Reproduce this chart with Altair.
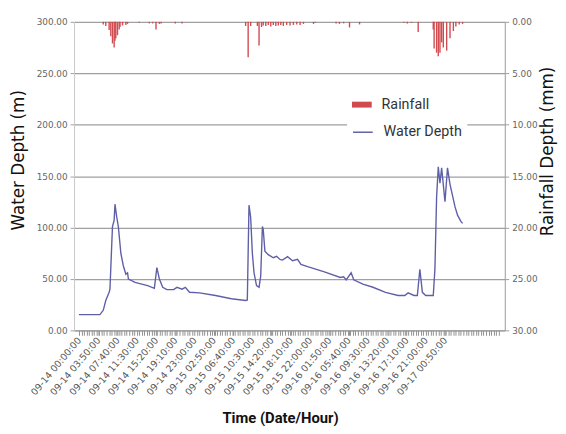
import altair as alt
import pandas as pd

# x positions are minutes after 09-14 00:00:00
tick_labels = ["09-14 00:00:00", "09-14 03:50:00", "09-14 07:40:00", "09-14 11:30:00",
               "09-14 15:20:00", "09-14 19:10:00", "09-14 23:00:00", "09-15 02:50:00",
               "09-15 06:40:00", "09-15 10:30:00", "09-15 14:20:00", "09-15 18:10:00",
               "09-15 22:00:00", "09-16 01:50:00", "09-16 05:40:00", "09-16 09:30:00",
               "09-16 13:20:00", "09-16 17:10:00", "09-16 21:00:00", "09-17 00:50:00"]
label_step = 230
x_end = 5025

wd_min = [0, 250, 290, 320, 360, 370, 400, 420, 430, 450,
          470, 500, 530, 560, 580, 590, 670, 750, 820, 900,
          930, 960, 1000, 1050, 1130, 1170, 1230, 1270, 1320, 1440,
          1630, 1820, 1990, 2010, 2030, 2050, 2070, 2090, 2120, 2150,
          2170, 2190, 2200, 2220, 2260, 2320, 2360, 2400, 2430, 2490,
          2550, 2610, 2650, 2740, 2930, 3120, 3160, 3190, 3250, 3280,
          3390, 3510, 3660, 3810, 3890, 3930, 4000, 4040, 4070, 4100,
          4140, 4230, 4250, 4270, 4290, 4310, 4330, 4370, 4400, 4430,
          4490, 4520, 4560, 4580]
wd_val = [15.3, 15.3, 19.5, 29, 37, 40, 101, 107, 122.7, 110.5,
          101, 75, 62.6, 54.6, 56, 49.8, 46.6, 45, 43.5, 40.9,
          61, 50, 41.8, 39.6, 39.6, 41.8, 40, 41.8, 37, 36.4,
          33.9, 30.7, 29, 29.5, 121.7, 110, 75, 56, 43.5, 41.8,
          53, 101, 98, 77, 73.6, 70.6, 72, 69, 68.3, 71.6,
          67.7, 69, 64.2, 61.7, 56.9, 51.4, 52, 49, 56, 49.2,
          45, 41.9, 37, 33.9, 33.9, 36.4, 33.9, 33.9, 59.4, 37,
          33.9, 33.9, 60, 130, 159, 143, 158, 125, 158, 142,
          120, 112, 106, 104]

rain_min = [290, 320, 360, 380, 400, 420, 430, 440, 460, 480,
            490, 520, 560, 580, 720, 840, 880, 920, 960, 980,
            1150, 1230, 1990, 2020, 2050, 2130, 2150, 2180, 2200, 2230,
            2260, 2290, 2320, 2350, 2380, 2410, 2440, 2480, 2520, 2560,
            2600, 2640, 2680, 2800, 2820, 3070, 3110, 3160, 3230, 3350,
            3880, 3920, 3970, 4050, 4230, 4240, 4270, 4290, 4310, 4330,
            4350, 4390, 4430, 4470, 4500, 4540, 4580]
rain_mm = [0.26, 0.4, 0.8, 1.4, 2.1, 2.5, 1.85, 1.6, 1.3, 0.75,
           0.5, 0.35, 0.3, 0.2, 0.1, 0.15, 0.15, 0.75, 0.2, 0.15,
           0.15, 0.15, 0.4, 3.45, 0.4, 0.4, 2.3, 0.5, 0.35, 0.4,
           0.3, 0.45, 0.3, 0.4, 0.35, 0.3, 0.4, 0.3, 0.35, 0.3,
           0.25, 0.3, 0.2, 0.2, 0.1, 0.15, 0.2, 0.15, 0.55, 0.25,
           0.1, 0.15, 0.1, 1.0, 0.75, 2.6, 3.0, 3.35, 3.0, 2.0,
           2.5, 2.8, 1.6, 0.9, 0.45, 0.25, 0.2]

wd_df = pd.DataFrame({"t": wd_min, "depth": wd_val, "series": "Water Depth"})
rain_df = pd.DataFrame({"t": rain_min, "rain": rain_mm, "series": "Rainfall"})

RED = "#cf4b50"
BLUE = "#5f5fa8"
SANS = "Roboto"

last_label = label_step * (len(tick_labels) - 1)
tick_values = sorted(set(list(range(0, x_end, 30)) + [label_step * i for i in range(len(tick_labels))]))
label_arr = "[" + ",".join("'" + s + "'" for s in tick_labels) + "]"
label_expr = ("(datum.value % " + str(label_step) + " === 0 && datum.value <= " + str(last_label) + ") ? "
              + label_arr + "[datum.value / " + str(label_step) + "] : ''")

x_scale = alt.Scale(domain=[0, x_end], nice=False, zero=False)

x_axis = alt.Axis(values=tick_values, labelExpr=label_expr, labelAngle=-50,
                  labelAlign="right", labelBaseline="middle", labelOverlap=False,
                  labelBound=False, labelFlush=False, labelFont="DejaVu Sans",
                  labelFontSize=9.5, labelColor="#555555", labelPadding=3,
                  tickSize=5, tickColor="#8f8f8f", domainColor="#9a9a9a", grid=False,
                  title="Time (Date/Hour)", titleFont=SANS, titleFontSize=15,
                  titleFontWeight="bold", titleColor="#111111", titleX=209, titleY=88,
                  titleAlign="center", titleBaseline="middle", titleAngle=0)

left_axis = alt.Axis(orient="left", values=list(range(0, 301, 50)), format=".2f",
                     grid=True, gridColor="#a0a0a0", gridWidth=1.2,
                     domainColor="#c8c8c8", tickColor="#a0a0a0", tickSize=4,
                     labelPadding=3, labelFont="DejaVu Sans", labelFontSize=9,
                     labelColor="#666666", title="Water Depth (m)",
                     titleFont="DejaVu Sans", titleFontSize=17, titleFontWeight="normal",
                     titleColor="#111111", titleAngle=270, titleX=-47, titleY=140,
                     titleAlign="center", titleBaseline="bottom")

right_axis = alt.Axis(orient="right", values=list(range(0, 31, 5)), format=".2f",
                      grid=False, domainColor="#9a9a9a", tickColor="#a0a0a0", tickSize=4,
                      labelPadding=3, labelFont="DejaVu Sans", labelFontSize=9,
                      labelColor="#666666", title="Rainfall Depth (mm)",
                      titleFont="DejaVu Sans", titleFontSize=17, titleFontWeight="normal",
                      titleColor="#111111", titleAngle=270, titleX=35, titleY=131,
                      titleAlign="center", titleBaseline="top")

bars = alt.Chart(rain_df).mark_bar(width=1.4).encode(
    x=alt.X("t:Q", scale=x_scale, axis=x_axis),
    y=alt.Y("rain:Q", scale=alt.Scale(domain=[0, 30], reverse=True, nice=False), axis=right_axis),
    fill=alt.Fill("series:N", scale=alt.Scale(domain=["Rainfall"], range=[RED]),
                  legend=alt.Legend(orient="none", legendX=277, legendY=69, title=None,
                                    symbolType="M-1,-0.3H1V0.3H-1Z", symbolSize=400,
                                    symbolStrokeWidth=0, fillColor="white", padding=5,
                                    labelOffset=10, labelFont=SANS, labelFontSize=14.5,
                                    labelColor="#333333")),
)

line = alt.Chart(wd_df).mark_line(strokeWidth=1.4).encode(
    x=alt.X("t:Q", scale=x_scale, axis=x_axis),
    y=alt.Y("depth:Q", scale=alt.Scale(domain=[0, 300], nice=False), axis=left_axis),
    stroke=alt.Stroke("series:N", scale=alt.Scale(domain=["Water Depth"], range=[BLUE]),
                      legend=alt.Legend(orient="none", legendX=277, legendY=96, title=None,
                                        symbolType="stroke", symbolSize=400,
                                        symbolStrokeWidth=1.5, fillColor="white", padding=5,
                                        labelOffset=10, labelFont=SANS, labelFontSize=14.5,
                                        labelColor="#333333")),
)

chart = alt.layer(bars, line).resolve_scale(y="independent").properties(
    width=437, height=313,
    autosize=alt.AutoSizeParams(type="none"),
    padding={"left": 67, "top": 11, "right": 54, "bottom": 94},
    background="white",
).configure_view(stroke=None)

chart.save("out.html", embed_options={"renderer": "svg", "actions": False})
